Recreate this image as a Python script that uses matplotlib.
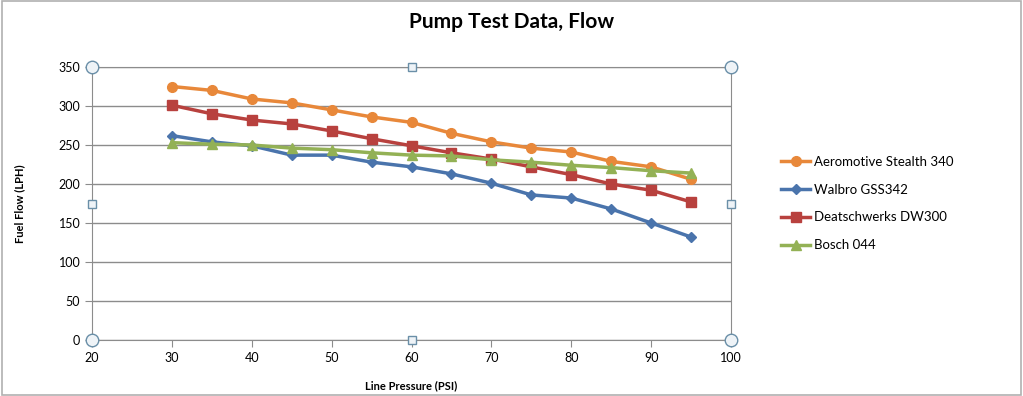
import numpy as np
import matplotlib.pyplot as plt

plt.rcParams['font.family'] = ['Lato', 'DejaVu Sans']

# Pump test readings
pressure = [30, 35, 40, 45, 50, 55, 60, 65, 70, 75, 80, 85, 90, 95]
aeromotive = [325, 320, 309, 304, 295, 286, 279, 265, 254, 246, 241, 229, 222, 206]
walbro = [262, 254, 249, 237, 237, 228, 222, 213, 201, 186, 182, 168, 150, 132]
deatschwerks = [301, 290, 282, 277, 268, 258, 249, 240, 232, 222, 212, 200, 192, 177]
bosch = [253, 251, 250, 246, 244, 240, 237, 236, 231, 228, 224, 221, 217, 214]

series = [
    ('Aeromotive Stealth 340', aeromotive, '#E8883A', 'o', 7),
    ('Walbro GSS342', walbro, '#4A74AC', 'D', 5),
    ('Deatschwerks DW300', deatschwerks, '#B8413E', 's', 7),
    ('Bosch 044', bosch, '#93B155', '^', 7),
]

fig = plt.figure(figsize=(10.23, 3.96), dpi=100)
ax = fig.add_axes([0.09, 0.1414, 0.6246, 0.6894])

for name, vals, col, mk, ms in series:
    ax.plot(pressure, vals, color=col, marker=mk, markersize=ms, linewidth=2.5, label=name)

ax.set_xlim(20, 100)
ax.set_ylim(0, 350)
ax.set_xticks(np.arange(20, 101, 10))
ax.set_yticks(np.arange(0, 351, 50))
ax.yaxis.grid(True, color='#8c8c8c', linewidth=1)
ax.set_axisbelow(True)
for s in ax.spines.values():
    s.set_color('#8c8c8c')
ax.tick_params(colors='#8c8c8c', labelcolor='black', labelsize=9, length=5)

ax.set_xlabel('Line Pressure (PSI)', fontsize=8, fontweight='bold', labelpad=12)
ax.set_ylabel('Fuel Flow (LPH)', fontsize=8, fontweight='bold', labelpad=24)
fig.suptitle('Pump Test Data, Flow', x=0.5, y=0.97, fontsize=15, fontweight='bold')

# selection handles of the plot area
for hx, hy, mk in [(0, 0, 'o'), (0, 1, 'o'), (1, 0, 'o'), (1, 1, 'o'),
                   (0.5, 0, 's'), (0.5, 1, 's'), (0, 0.5, 's'), (1, 0.5, 's')]:
    ax.plot(hx, hy, marker=mk, markersize=9 if mk == 'o' else 6, mfc='#eef3f7',
            mec='#6a8fa8', mew=1, transform=ax.transAxes, clip_on=False, zorder=5)

ax.legend(loc='center left', bbox_to_anchor=(1.06, 0.5), frameon=False,
          fontsize=9.5, labelspacing=1.2, handlelength=2.2, handletextpad=0.3)

fig.patches.append(plt.Rectangle((0.002, 0.003), 0.996, 0.994, transform=fig.transFigure,
                                 fill=False, edgecolor='#b0b0b0', linewidth=1.2))

fig.savefig('out.png', dpi=100)
